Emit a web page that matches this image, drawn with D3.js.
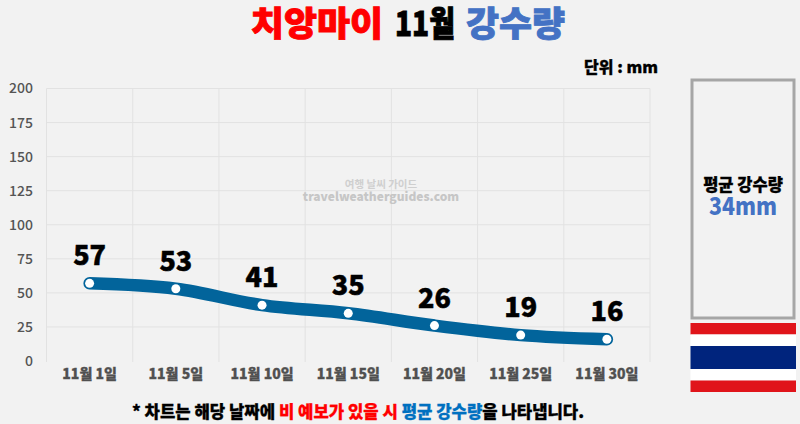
<!DOCTYPE html>
<html>
<head>
<meta charset="utf-8">
<script src="https://cdn.jsdelivr.net/npm/d3@7"></script>
<style>
  html, body { margin: 0; padding: 0; background: #f2f2f2; overflow: hidden; }
  text { font-family: "Noto Sans CJK KR", "Noto Sans", sans-serif; }
</style>
</head>
<body>
<div id="chart"></div>
<script>
const categories = ["11월 1일", "11월 5일", "11월 10일", "11월 15일", "11월 20일", "11월 25일", "11월 30일"];
const rainfall = [57, 53, 41, 35, 26, 19, 16];
const yTicks = [0, 25, 50, 75, 100, 125, 150, 175, 200];
const flagStripes = ["#e0141a", "#ffffff", "#00247d", "#ffffff", "#e0141a"];
const flagWeights = [1, 1, 2, 1, 1];

const w = 800, h = 424;
const svg = d3.select("#chart").append("svg").attr("width", w).attr("height", h)
  .style("display", "block");

svg.append("rect").attr("width", w).attr("height", h).attr("fill", "#f2f2f2");

const xScale = d3.scaleBand().domain(categories).range([46.5, 650]);
const yScale = d3.scaleLinear().domain([0, 200]).range([361, 88.5]);
const cx = d => xScale(d) + xScale.bandwidth() / 2;

// grid
const xEdges = categories.map(d => xScale(d)).concat([650]);
svg.append("g").selectAll("line").data(xEdges).enter().append("line")
  .attr("x1", d => d).attr("x2", d => d)
  .attr("y1", yScale(200)).attr("y2", yScale(0) + 1)
  .attr("stroke", "#e2e2e2").attr("stroke-width", 1);
svg.append("g").selectAll("line").data(yTicks.filter(d => d > 0)).enter().append("line")
  .attr("x1", 46.5).attr("x2", 650)
  .attr("y1", d => yScale(d)).attr("y2", d => yScale(d))
  .attr("stroke", "#e2e2e2").attr("stroke-width", 1);

// axes
const yAxis = d3.axisLeft(yScale).tickValues(yTicks).tickSize(0).tickPadding(0);
const yG = svg.append("g").attr("transform", "translate(33,0)").call(yAxis);
yG.select(".domain").remove();
yG.selectAll("text")
  .style("font-size", "14px").style("font-weight", "500").attr("fill", "#555");

const xAxis = d3.axisBottom(xScale).tickSize(0).tickPadding(0);
const xG = svg.append("g").attr("transform", "translate(0,369)").call(xAxis);
xG.select(".domain").remove();
xG.selectAll("text")
  .style("font-size", "14px").style("font-weight", "900").attr("fill", "#505050")
  .attr("stroke", "#505050").attr("stroke-width", 0.3);

// watermark
svg.append("text").attr("x", 381).attr("y", 188).attr("text-anchor", "middle")
  .style("font-size", "10.5px").style("font-weight", "700").attr("fill", "#cfcfcf")
  .text("여행 날씨 가이드");
svg.append("text").attr("x", 381).attr("y", 201).attr("text-anchor", "middle")
  .style("font-size", "12px").style("font-weight", "900").attr("fill", "#c6c6c6")
  .text("travelweatherguides.com");

// rainfall line
const line = d3.line()
  .x(d => cx(d.cat)).y(d => yScale(d.val))
  .curve(d3.curveCatmullRom.alpha(0.5));
const series = categories.map((c, i) => ({cat: c, val: rainfall[i]}));

svg.append("path").datum(series)
  .attr("d", line).attr("fill", "none")
  .attr("stroke", "#02649b").attr("stroke-width", 12.5)
  .attr("stroke-linecap", "round").attr("stroke-linejoin", "round");

svg.append("g").selectAll("circle").data(series).enter().append("circle")
  .attr("cx", d => cx(d.cat)).attr("cy", d => yScale(d.val))
  .attr("r", 4.5).attr("fill", "#fff");

svg.append("g").selectAll("text").data(series).enter().append("text")
  .attr("x", d => cx(d.cat)).attr("y", d => yScale(d.val) - 18)
  .attr("text-anchor", "middle")
  .style("font-size", "27px").style("font-weight", "900").attr("fill", "#000")
  .attr("stroke", "#000").attr("stroke-width", 0.5)
  .text(d => d.val);

// title, three parts so each one can sit where the reference has it
function titlePart(x, len, color, label) {
  svg.append("text").attr("x", x).attr("y", 36)
    .attr("textLength", len).attr("lengthAdjust", "spacingAndGlyphs")
    .style("font-size", "34px").style("font-weight", "900")
    .attr("fill", color).attr("stroke", color).attr("stroke-width", 0.9)
    .text(label);
}
titlePart(251, 132, "#ff0000", "치앙마이");
titlePart(395, 60, "#000000", "11월");
titlePart(466, 99, "#4472c4", "강수량");

svg.append("text").attr("x", 658).attr("y", 73).attr("text-anchor", "end")
  .style("font-size", "16px").style("font-weight", "900").attr("fill", "#000")
  .attr("stroke", "#000").attr("stroke-width", 0.3)
  .text("단위 : mm");

// average box
svg.append("rect").attr("x", 692).attr("y", 80).attr("width", 102).attr("height", 238)
  .attr("fill", "none").attr("stroke", "#a6a6a6").attr("stroke-width", 3);
svg.append("text").attr("x", 743).attr("y", 191).attr("text-anchor", "middle")
  .style("font-size", "16.5px").style("font-weight", "900").attr("fill", "#000")
  .attr("stroke", "#000").attr("stroke-width", 0.3)
  .text("평균 강수량");
svg.append("text").attr("x", 709).attr("y", 215)
  .attr("textLength", 68).attr("lengthAdjust", "spacingAndGlyphs")
  .style("font-size", "24px").style("font-weight", "900").attr("fill", "#4472c4")
  .text("34mm");

// flag
const flagY = d3.scaleLinear().domain([0, d3.sum(flagWeights)]).range([323, 392]);
let acc = 0;
flagStripes.forEach(function(c, i) {
  svg.append("rect").attr("x", 690.5).attr("width", 105.5)
    .attr("y", flagY(acc)).attr("height", flagY(acc + flagWeights[i]) - flagY(acc))
    .attr("fill", c);
  acc += flagWeights[i];
});

// footnote
const note = svg.append("text").attr("x", 358).attr("y", 418).attr("text-anchor", "middle")
  .style("font-size", "16.7px").style("font-weight", "900")
  .attr("stroke-width", 0.3);
note.append("tspan").attr("fill", "#000").attr("stroke", "#000").text("* 차트는 해당 날짜에 ");
note.append("tspan").attr("fill", "#ff0000").attr("stroke", "#ff0000").text("비 예보가 있을 시 ");
note.append("tspan").attr("fill", "#0070c0").attr("stroke", "#0070c0").text("평균 강수량");
note.append("tspan").attr("fill", "#000").attr("stroke", "#000").text("을 나타냅니다.");
</script>
</body>
</html>
